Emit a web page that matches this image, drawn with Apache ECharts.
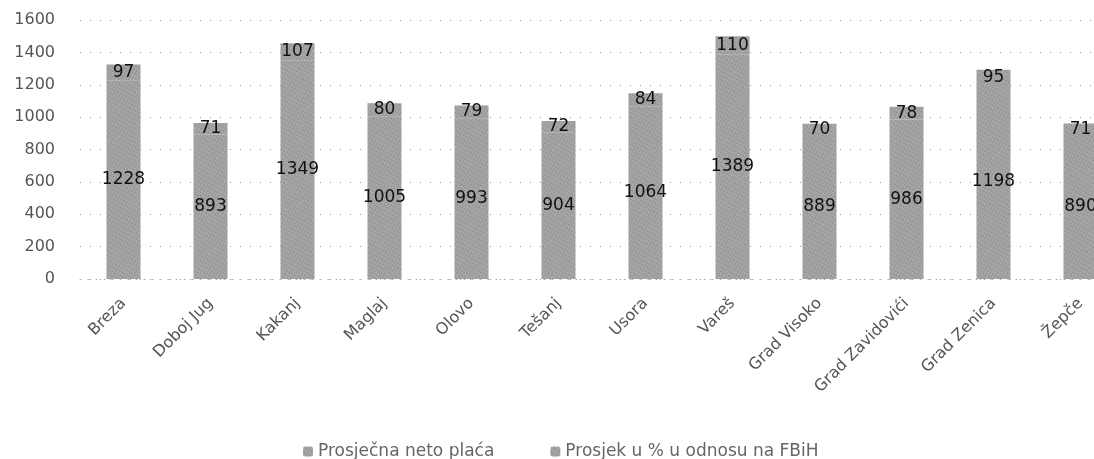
<!DOCTYPE html>
<html>
<head>
<meta charset="utf-8">
<script src="https://cdn.jsdelivr.net/npm/echarts@6/dist/echarts.min.js"></script>
<style>
  html, body { margin: 0; padding: 0; background: #fff; }
  #chart { width: 1094px; height: 459px; }
</style>
</head>
<body>
<div id="chart"></div>
<script>
// kategorije (opcine)
const categories = ['Breza', 'Doboj Jug', 'Kakanj', 'Maglaj', 'Olovo', 'Tešanj', 'Usora', 'Vareš', 'Grad Visoko', 'Grad Zavidovići', 'Grad Zenica', 'Žepče']
// prosjecna neto placa
const placaData = [1228, 893, 1349, 1005, 993, 904, 1064, 1389, 889, 986, 1198, 890]
// prosjek u % u odnosu na FBiH
const postotakData = [97, 71, 107, 80, 79, 72, 84, 110, 70, 78, 95, 71]
const seriesNames = ['Prosječna neto plaća', 'Prosjek u % u odnosu na FBiH']
const yTicks = [0, 200, 400, 600, 800, 1000, 1200, 1400, 1600]

const chart = echarts.init(document.getElementById('chart'))

const font = 'DejaVu Sans'
// tockasta tekstura kao na skeniranoj slici
const stipple = {
  symbol: 'rect',
  symbolSize: 0.7,
  color: 'rgba(30,30,30,0.6)',
  dashArrayX: [[1, 2], [2, 1]],
  dashArrayY: [1, 1],
  rotation: 0.5
}

function barSeries(name, data) {
  return {
    name: name,
    type: 'bar',
    stack: 'ukupno',
    barWidth: 34,
    data: data,
    itemStyle: { color: '#a8a8a8', decal: stipple },
    label: {
      show: true,
      position: 'inside',
      color: '#111',
      fontFamily: font,
      fontSize: 17
    }
  }
}

const option = {
  animation: false,
  aria: { enabled: false },
  // graf je na desnoj strani odrezan (Žepče)
  grid: { left: 80, right: -30, top: 20, bottom: 180, containLabel: false, outerBoundsMode: 'none' },
  legend: {
    data: seriesNames,
    left: 298,
    top: 438,
    itemWidth: 10,
    itemHeight: 10,
    itemGap: 56,
    textStyle: { color: '#666', fontFamily: font, fontSize: 17 }
  },
  xAxis: {
    type: 'category',
    data: categories,
    axisLine: { show: true, lineStyle: { color: '#aaa', type: [1, 7] } },
    axisTick: { show: false },
    axisLabel: {
      rotate: 45,
      interval: 0,
      margin: 22,
      color: '#555',
      fontFamily: font,
      fontSize: 16
    }
  },
  yAxis: {
    type: 'value',
    min: yTicks[0],
    max: yTicks[yTicks.length - 1],
    interval: 200,
    axisLine: { show: false },
    axisTick: { show: false },
    axisLabel: {
      color: '#555',
      fontFamily: font,
      fontSize: 16,
      margin: 25,
      formatter: function (v) { return String(v) }
    },
    splitLine: { show: true, lineStyle: { color: '#999', type: [1, 9] } }
  },
  series: [
    barSeries(seriesNames[0], placaData),
    barSeries(seriesNames[1], postotakData)
  ]
}

chart.setOption(option)
</script>
</body>
</html>
